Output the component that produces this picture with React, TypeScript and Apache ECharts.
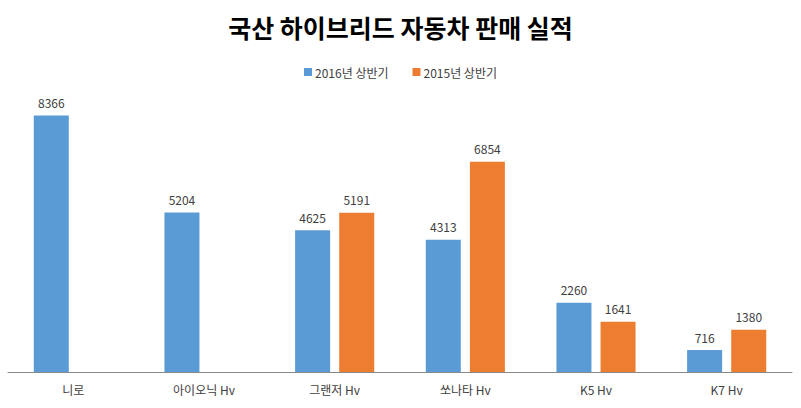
import React, { useEffect, useRef } from "react";
import * as echarts from "echarts";

const categories = ["니로", "아이오닉 Hv", "그랜저 Hv", "쏘나타 Hv", "K5 Hv", "K7 Hv"];
const sales2016 = [8366, 5204, 4625, 4313, 2260, 716];
const sales2015: (number | null)[] = [null, null, 5191, 6854, 1641, 1380];
const seriesNames = ["2016년 상반기", "2015년 상반기"];

const FONT = "'Noto Sans CJK KR', 'Noto Sans', sans-serif";

export default function App() {
  const ref = useRef<HTMLDivElement>(null);
  useEffect(() => {
    document.body.style.margin = "0";
    if (!ref.current) return;
    const chart = echarts.init(ref.current, undefined, { renderer: "svg" });
    const label = {
      show: true,
      position: "top" as const,
      distance: 7,
      color: "#404040",
      fontSize: 12,
      fontFamily: FONT,
    };
    chart.setOption({
      animation: false,
      title: {
        text: "국산 하이브리드 자동차 판매 실적",
        left: "center",
        top: 9,
        textStyle: { fontSize: 25, fontWeight: "bold", color: "#000", fontFamily: FONT },
      },
      legend: {
        top: 61,
        left: "center",
        itemWidth: 8,
        itemHeight: 8,
        itemGap: 24,
        icon: "rect",
        textStyle: { fontSize: 12, color: "#404040", fontFamily: FONT, padding: [0, 0, 0, -2] },
        data: seriesNames,
      },
      grid: { left: 8, right: 9, top: 96, bottom: 36, containLabel: false },
      xAxis: {
        type: "category",
        data: categories,
        axisLine: { lineStyle: { color: "#898989", width: 1 } },
        axisTick: { show: false },
        axisLabel: { color: "#404040", fontSize: 12, fontFamily: FONT, margin: 11 },
      },
      yAxis: {
        type: "value",
        min: 0,
        max: 9000,
        show: false,
        splitLine: { show: false },
      },
      series: [
        {
          name: seriesNames[0],
          type: "bar",
          data: sales2016,
          barWidth: 35,
          barGap: "26%",
          itemStyle: { color: "#5B9BD5" },
          label,
        },
        {
          name: seriesNames[1],
          type: "bar",
          data: sales2015.map((v) => (v === null ? "-" : v)),
          barWidth: 35,
          barGap: "26%",
          itemStyle: { color: "#ED7D31" },
          label,
        },
      ],
    });
    return () => chart.dispose();
  }, []);
  return <div ref={ref} style={{ width: 801, height: 408 }} />;
}
